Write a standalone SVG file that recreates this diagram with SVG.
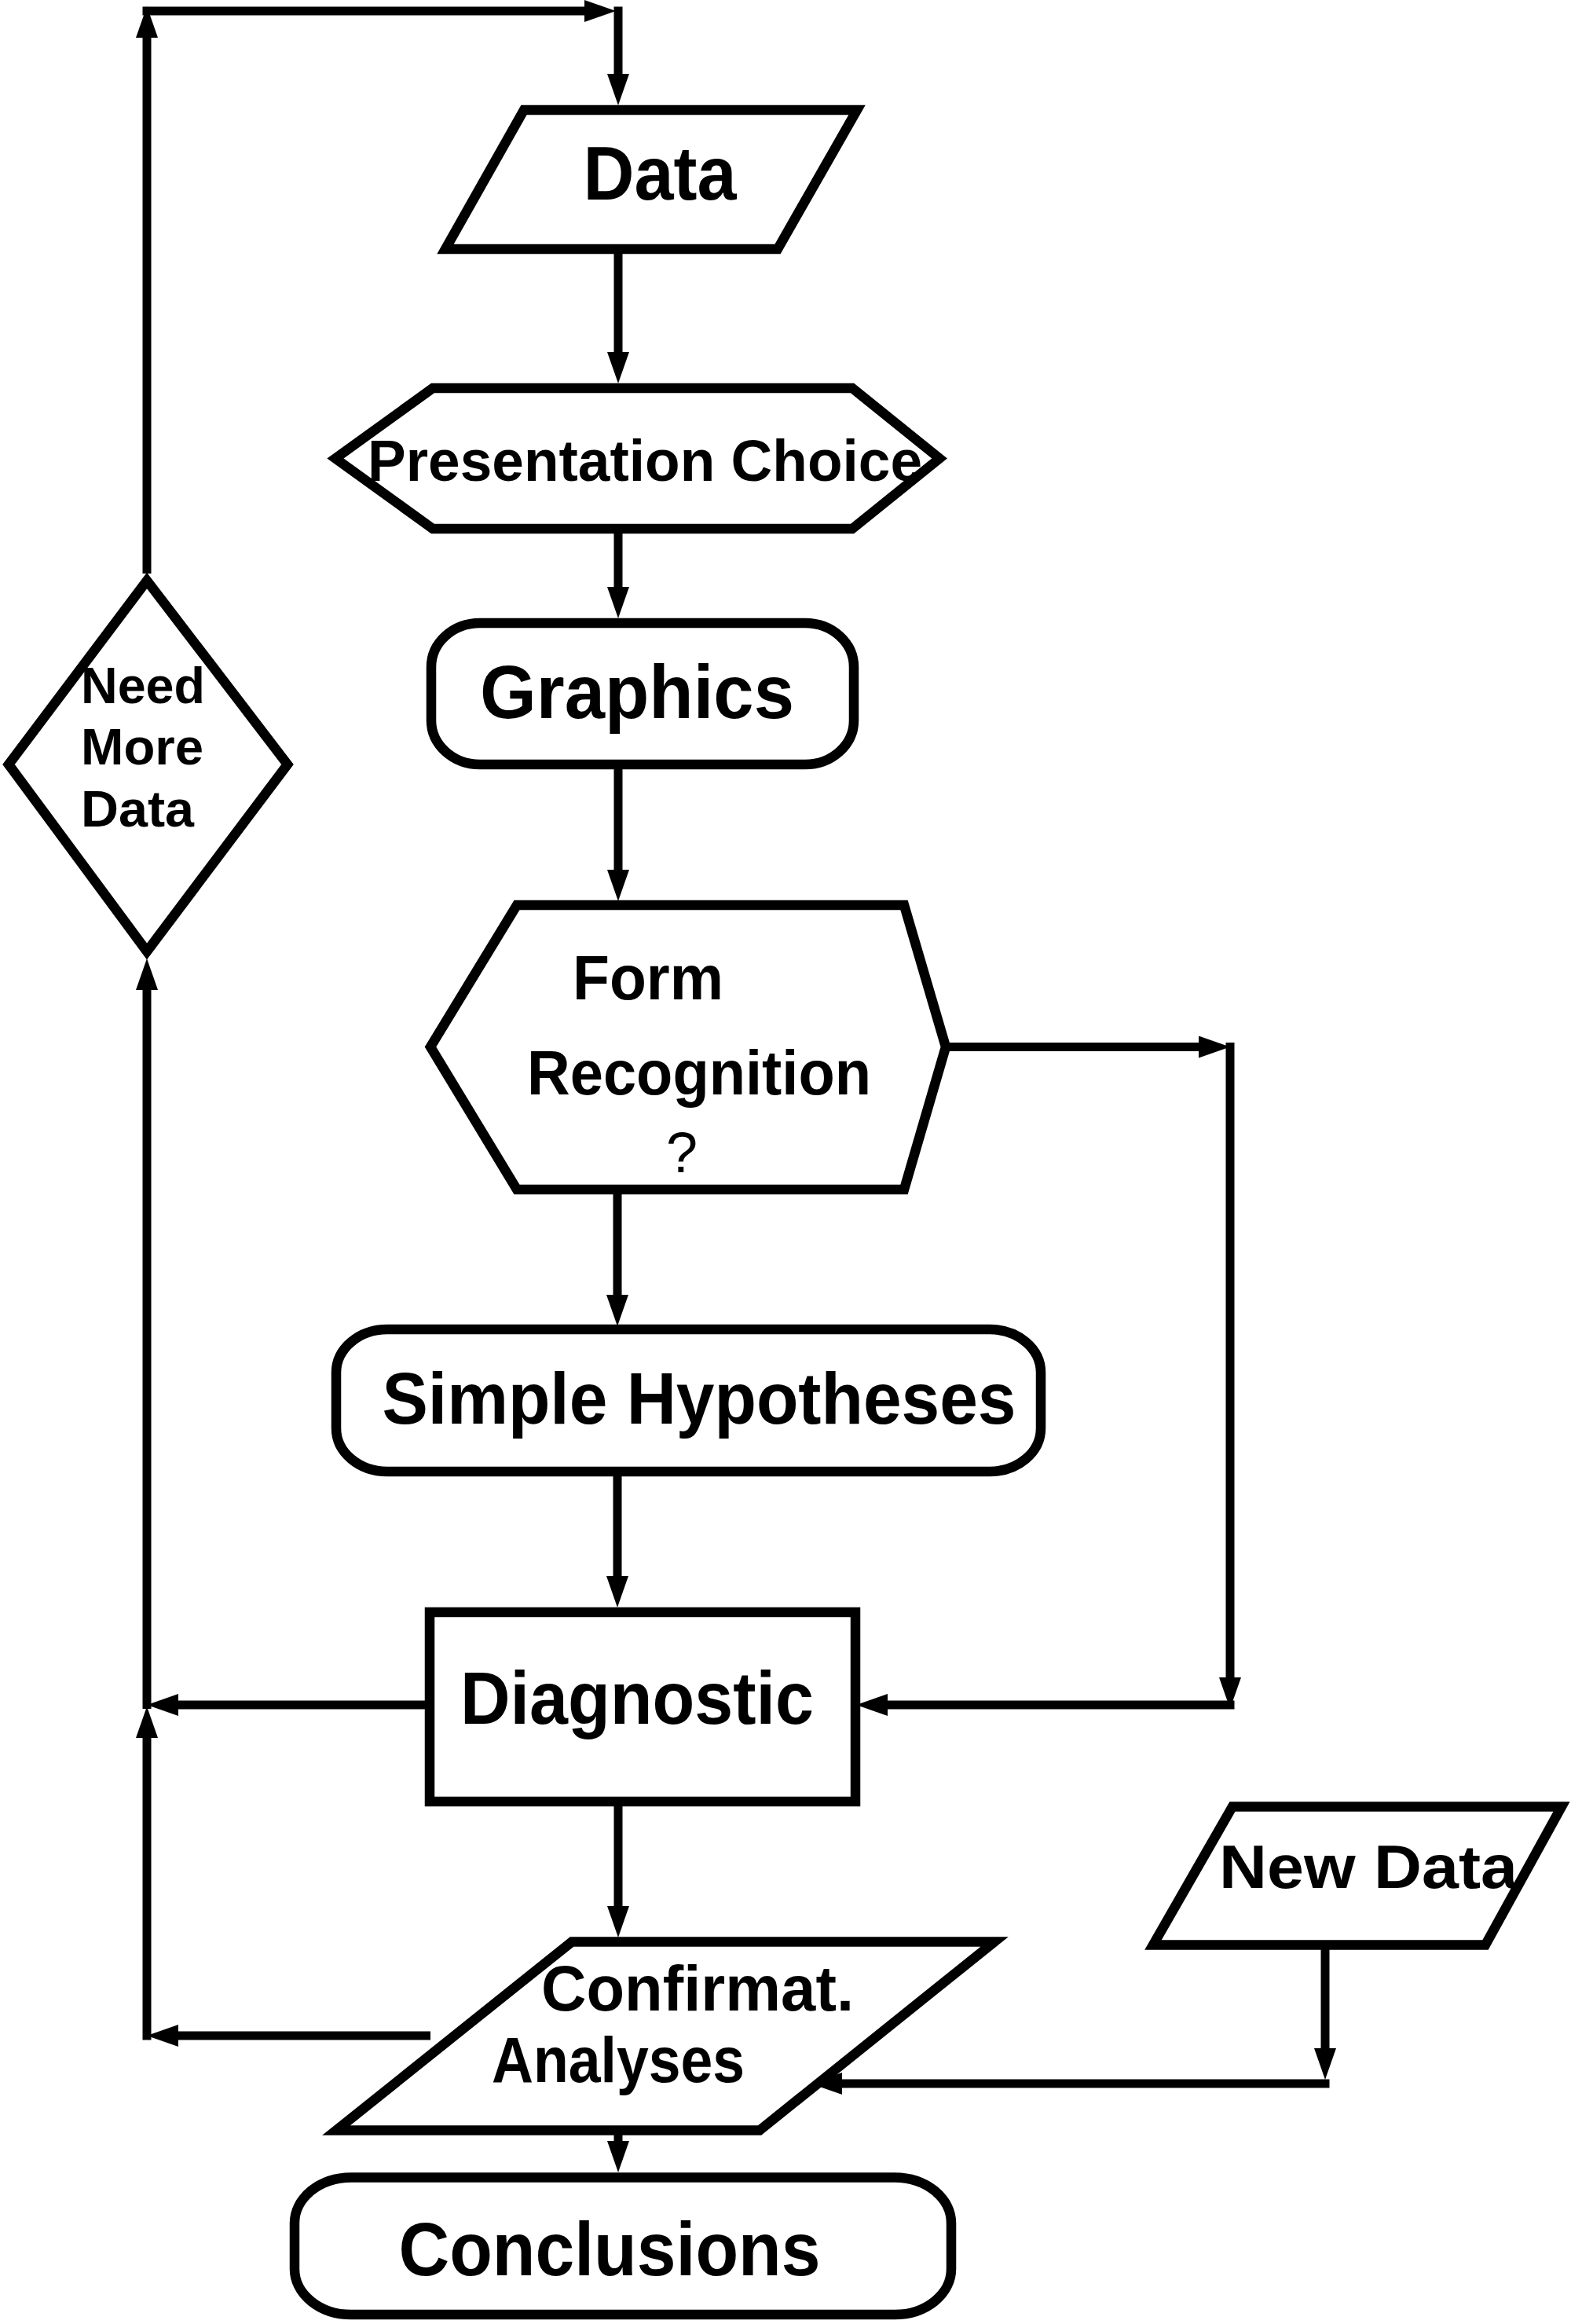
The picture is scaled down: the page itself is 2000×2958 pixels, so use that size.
<svg xmlns="http://www.w3.org/2000/svg" width="2000" height="2958" viewBox="0 0 2000 2958">
<style>
.shape{fill:#fff;stroke:#000;stroke-width:12.5;stroke-linejoin:miter}
.conn{fill:none;stroke:#000;stroke-width:11;marker-end:url(#ah)}
.t{font-family:"Liberation Sans",Arial,sans-serif;font-weight:bold;fill:#000;text-anchor:middle}
.q{font-family:"Liberation Sans",Arial,sans-serif;font-weight:normal;fill:#000;text-anchor:middle}
</style>
<defs>
<marker id="ah" viewBox="0 0 40 28" refX="20" refY="14" markerWidth="40" markerHeight="28" markerUnits="userSpaceOnUse" orient="auto">
<path d="M0,0 L40,14 L0,28 Z" fill="#000"/>
</marker>
</defs>
<rect x="0" y="0" width="2000" height="2958" fill="#fff"/>
<g id="connectors">
<path class="conn" d="M187,730 L187,28"/>
<path class="conn" d="M181.5,14 L764,14"/>
<path class="conn" d="M787,8.5 L787,114"/>
<path class="conn" d="M787,323 L787,468"/>
<path class="conn" d="M787,679 L787,767"/>
<path class="conn" d="M787,979 L787,1127"/>
<path class="conn" d="M786,1519 L786,1668"/>
<path class="conn" d="M786,1878 L786,2026"/>
<path class="conn" d="M787,2298 L787,2446"/>
<path class="conn" d="M787,2717 L787,2745"/>
<path class="conn" d="M1205,1332.5 L1546,1332.5"/>
<path class="conn" d="M1566,1327 L1566,2155"/>
<path class="conn" d="M1571.5,2170 L1110,2170"/>
<path class="conn" d="M547,2170 L207,2170"/>
<path class="conn" d="M187,2175 L187,1240"/>
<path class="conn" d="M187,2596.5 L187,2192"/>
<path class="conn" d="M548,2591 L207,2591"/>
<path class="conn" d="M1687,2481 L1687,2627"/>
<path class="conn" d="M1692.5,2652 L1052,2652"/>
</g>
<g id="node-data">
<polygon class="shape" points="667,140 1091,140 990,317 567,317"/>
<text class="t" x="840" y="254" font-size="97" textLength="195" lengthAdjust="spacingAndGlyphs">Data</text>
</g>
<g id="node-presentation">
<polygon class="shape" points="551,494 1085,494 1196,583.5 1085,673 551,673 427,583.5"/>
<text class="t" x="821" y="612" font-size="74" textLength="706" lengthAdjust="spacingAndGlyphs">Presentation Choice</text>
</g>
<g id="node-graphics">
<rect class="shape" x="549" y="793" width="538" height="180" rx="62" ry="56"/>
<text class="t" x="811" y="914" font-size="96" textLength="400" lengthAdjust="spacingAndGlyphs">Graphics</text>
</g>
<g id="node-needmore">
<polygon class="shape" points="187,739 366,973 187,1211 11,973"/>
<text class="t" x="182" y="895" font-size="64" textLength="158" lengthAdjust="spacingAndGlyphs">Need</text>
<text class="t" x="181" y="973" font-size="64" textLength="156" lengthAdjust="spacingAndGlyphs">More</text>
<text class="t" x="175" y="1052" font-size="64" textLength="144" lengthAdjust="spacingAndGlyphs">Data</text>
</g>
<g id="node-form">
<polygon class="shape" points="658,1152 1151,1152 1204,1332.5 1151,1514 658,1514 548,1332.5"/>
<text class="t" x="825" y="1272" font-size="80" textLength="192" lengthAdjust="spacingAndGlyphs">Form</text>
<text class="t" x="890" y="1393" font-size="80" textLength="438" lengthAdjust="spacingAndGlyphs">Recognition</text>
<text class="q" x="868" y="1492" font-size="72">?</text>
</g>
<g id="node-simple">
<rect class="shape" x="428" y="1692" width="897" height="181" rx="65" ry="55"/>
<text class="t" x="890" y="1812" font-size="92" textLength="807" lengthAdjust="spacingAndGlyphs">Simple Hypotheses</text>
</g>
<g id="node-diagnostic">
<rect class="shape" x="547" y="2052" width="542" height="241"/>
<text class="t" x="811" y="2194" font-size="94" textLength="450" lengthAdjust="spacingAndGlyphs">Diagnostic</text>
</g>
<g id="node-newdata">
<polygon class="shape" points="1569,2299.5 1988,2299.5 1891,2475.5 1468,2475.5"/>
<text class="t" x="1742" y="2403" font-size="78" textLength="380" lengthAdjust="spacingAndGlyphs">New Data</text>
</g>
<g id="node-confirmat">
<polygon class="shape" points="728,2471.5 1266,2471.5 967,2711.5 428,2711.5"/>
<text class="t" x="888" y="2559" font-size="81" textLength="398" lengthAdjust="spacingAndGlyphs">Confirmat.</text>
<text class="t" x="787" y="2650" font-size="81" textLength="322" lengthAdjust="spacingAndGlyphs">Analyses</text>
</g>
<g id="node-conclusions">
<rect class="shape" x="375" y="2771.5" width="836" height="174.5" rx="72" ry="58"/>
<text class="t" x="776" y="2896" font-size="97" textLength="537" lengthAdjust="spacingAndGlyphs">Conclusions</text>
</g>
</svg>
